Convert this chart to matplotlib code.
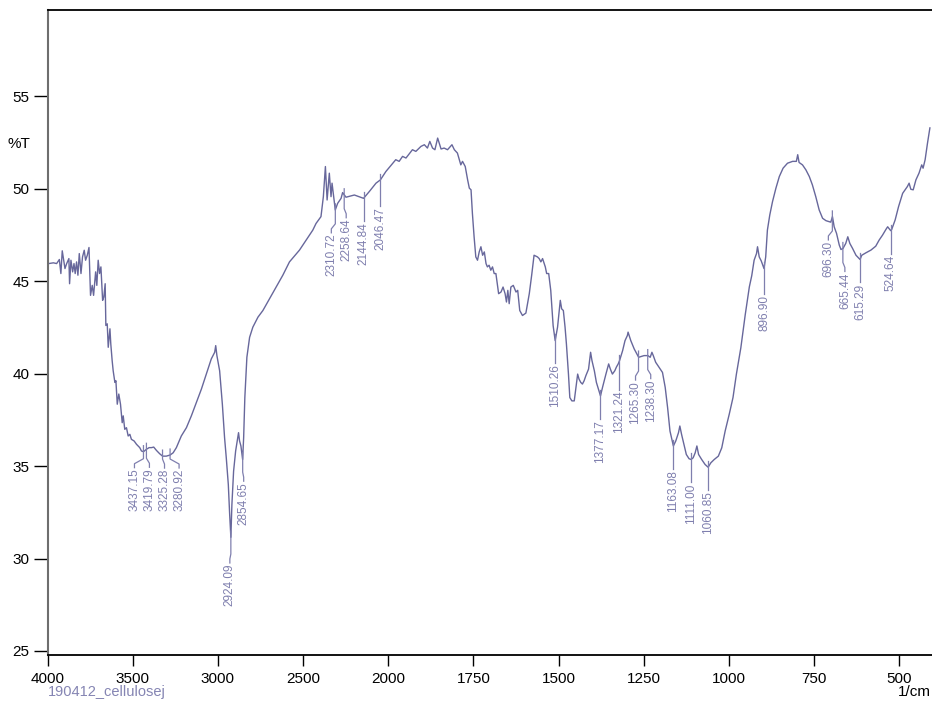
import numpy as np
import matplotlib
matplotlib.use("Agg")
import matplotlib.pyplot as plt

plt.rcParams['font.family'] = ['Liberation Sans', 'DejaVu Sans']

# FTIR spectrum of the cellulose sample (wavenumber in 1/cm, transmittance in %T)
wavenumber = [
    4000, 3966, 3947, 3931, 3922, 3914, 3898, 3888, 3875, 3871, 3863, 3853, 3845, 3838,
    3830, 3822, 3814, 3804, 3795, 3785, 3777, 3767, 3757, 3748, 3738, 3730, 3718, 3711,
    3703, 3695, 3687, 3677, 3670, 3662, 3658, 3650, 3644, 3634, 3629, 3621, 3615, 3605,
    3599, 3591, 3582, 3572, 3562, 3556, 3547, 3537, 3527, 3517, 3508, 3492, 3478, 3459,
    3449, 3437, 3420, 3404, 3390, 3377, 3361, 3342, 3325, 3303, 3281, 3263, 3244, 3215,
    3185, 3156, 3127, 3097, 3068, 3039, 3019, 3013, 3006, 2990, 2974, 2961, 2951, 2939,
    2931, 2924, 2918, 2908, 2896, 2885, 2879, 2873, 2865, 2855, 2849, 2842, 2830, 2814,
    2795, 2765, 2736, 2697, 2658, 2619, 2580, 2521, 2482, 2443, 2424, 2395, 2381, 2369,
    2359, 2346, 2336, 2330, 2311, 2297, 2277, 2268, 2248, 2199, 2145, 2111, 2072, 2046,
    2014, 1978, 1968, 1958, 1948, 1929, 1919, 1904, 1894, 1885, 1878, 1870, 1863, 1855,
    1845, 1836, 1826, 1813, 1806, 1797, 1787, 1782, 1774, 1767, 1762, 1757, 1753, 1748,
    1743, 1738, 1733, 1728, 1723, 1718, 1713, 1709, 1704, 1699, 1694, 1689, 1684, 1676,
    1669, 1663, 1657, 1653, 1649, 1645, 1640, 1633, 1625, 1620, 1614, 1606, 1596, 1586,
    1579, 1572, 1562, 1557, 1552, 1547, 1539, 1535, 1529, 1523, 1516, 1510, 1503, 1498,
    1495, 1491, 1486, 1481, 1477, 1471, 1467, 1461, 1454, 1449, 1444, 1440, 1435, 1430,
    1425, 1420, 1412, 1406, 1402, 1395, 1389, 1377, 1371, 1361, 1353, 1348, 1342, 1335,
    1330, 1325, 1321, 1312, 1305, 1298, 1296, 1288, 1278, 1265, 1249, 1238, 1231, 1226,
    1222, 1215, 1205, 1195, 1187, 1180, 1173, 1163, 1156, 1148, 1144, 1139, 1131, 1125,
    1117, 1111, 1105, 1099, 1094, 1089, 1080, 1070, 1061, 1053, 1043, 1031, 1021, 1011,
    999, 988, 978, 965, 952, 940, 933, 926, 919, 916, 911, 905, 897, 892,
    887, 880, 872, 862, 852, 841, 828, 813, 802, 798, 794, 784, 774, 764,
    755, 745, 735, 725, 715, 701, 696, 691, 684, 676, 671, 665, 657, 651,
    645, 637, 627, 615, 610, 598, 583, 569, 559, 549, 539, 534, 525, 522,
    512, 502, 490, 476, 471, 466, 459, 451, 442, 434, 430, 424, 417, 410,
]
transmittance = [
    45.95, 46.00, 45.96, 46.18, 45.42, 46.65, 45.69, 45.96, 46.23, 44.87, 46.14, 45.51, 45.96, 45.42,
    46.05, 45.33, 46.50, 45.42, 46.32, 46.68, 46.14, 46.41, 46.83, 44.24, 44.78, 44.24, 45.51, 44.78,
    46.14, 45.42, 45.78, 43.97, 44.15, 44.87, 42.61, 42.70, 41.43, 42.43, 41.61, 40.71, 40.16, 39.53,
    39.62, 38.35, 38.90, 38.35, 37.35, 37.72, 36.99, 37.08, 36.63, 36.72, 36.45, 36.36, 36.18, 36.00,
    35.82, 35.78, 35.91, 36.00, 36.00, 36.03, 35.85, 35.67, 35.54, 35.54, 35.60, 35.72, 36.00, 36.63,
    37.08, 37.72, 38.44, 39.17, 39.98, 40.80, 41.16, 41.52, 40.98, 40.16, 38.35, 36.54, 35.45, 34.00,
    32.37, 31.15, 32.91, 34.73, 35.82, 36.45, 36.81, 36.36, 36.09, 35.36, 36.54, 38.71, 40.89, 41.97,
    42.52, 43.06, 43.42, 44.06, 44.69, 45.33, 46.05, 46.69, 47.23, 47.77, 48.13, 48.50, 49.58, 51.21,
    49.40, 50.85, 49.58, 50.31, 48.86, 49.22, 49.49, 49.80, 49.55, 49.67, 49.49, 49.86, 50.31, 50.49,
    50.94, 51.58, 51.49, 51.76, 51.67, 52.12, 52.03, 52.30, 52.39, 52.21, 52.57, 52.21, 52.12, 52.75,
    52.16, 52.21, 52.12, 52.39, 52.12, 51.94, 51.30, 51.49, 51.21, 50.49, 50.04, 49.95, 48.68, 47.41,
    46.32, 46.14, 46.59, 46.87, 46.41, 46.59, 45.96, 45.78, 45.87, 45.60, 45.78, 45.42, 45.42, 44.33,
    44.42, 44.69, 44.33, 43.88, 44.51, 43.79, 44.69, 44.78, 44.42, 44.51, 43.42, 43.15, 43.28, 44.33,
    45.33, 46.41, 46.32, 46.23, 46.05, 46.23, 45.78, 45.42, 45.42, 44.51, 42.60, 41.79, 42.52, 43.42,
    43.97, 43.51, 43.42, 42.52, 41.61, 39.98, 38.71, 38.53, 38.53, 39.26, 39.98, 39.71, 39.53, 39.44,
    39.62, 39.89, 40.25, 41.16, 40.71, 40.16, 39.53, 38.80, 39.26, 39.98, 40.53, 40.25, 39.98, 40.16,
    40.37, 40.53, 40.71, 41.25, 41.79, 42.07, 42.25, 41.79, 41.34, 40.89, 40.98, 40.98, 40.89, 41.16,
    40.98, 40.62, 40.34, 40.07, 39.26, 38.17, 36.90, 36.09, 36.36, 36.81, 37.17, 36.72, 36.09, 35.63,
    35.40, 35.36, 35.45, 35.72, 36.09, 35.63, 35.36, 35.09, 34.94, 35.18, 35.36, 35.54, 35.99, 36.90,
    37.81, 38.71, 39.98, 41.40, 43.20, 44.70, 45.30, 46.14, 46.50, 46.87, 46.32, 46.10, 45.69, 46.32,
    47.77, 48.59, 49.31, 50.04, 50.67, 51.12, 51.39, 51.49, 51.49, 51.85, 51.43, 51.30, 51.03, 50.67,
    50.22, 49.58, 48.86, 48.41, 48.28, 48.20, 48.50, 47.95, 47.59, 46.96, 46.72, 46.78, 47.05, 47.41,
    47.05, 46.78, 46.41, 46.18, 46.41, 46.54, 46.69, 46.90, 47.23, 47.50, 47.81, 47.95, 47.74, 47.81,
    48.32, 49.04, 49.76, 50.13, 50.31, 49.98, 49.95, 50.49, 50.85, 51.30, 51.12, 51.58, 52.48, 53.30,
]

# picked peaks
peaks = [3437.15, 3419.79, 3325.28, 3280.92, 2924.09, 2854.65, 2310.72, 2258.64, 2144.84,
         2046.47, 1510.26, 1377.17, 1321.24, 1265.30, 1238.30, 1163.08, 1111.00, 1060.85,
         896.90, 696.30, 665.44, 615.29, 524.64]

x_ticks = [4000, 3500, 3000, 2500, 2000, 1750, 1500, 1250, 1000, 750, 500]
y_ticks = [25, 30, 35, 40, 45, 50, 55]

# horizontal nudge of crowded labels and drop below the curve (pixels)
label_dx = {3437.15: -9, 3419.79: 3, 3325.28: 2, 3280.92: 9, 2924.09: -1, 2854.65: 1,
            2310.72: -4, 2258.64: 2, 1265.30: -3, 1238.30: 3, 696.30: -4, 665.44: 2}
label_drop = {3437.15: 17, 3419.79: 19, 3325.28: 13, 3280.92: 14, 2924.09: 27,
              2046.47: 27, 1321.24: 30, 896.90: 27}

line_color = '#67679b'
label_color = '#7f7fae'


# spectrometer style axis: 4000-2000 at half the scale of 2000-400
def fwd(x):
    x = np.asarray(x, dtype=float)
    return np.where(x > 2000, 2000 + (x - 2000) / 2, x)


def inv(u):
    u = np.asarray(u, dtype=float)
    return np.where(u > 2000, 2000 + (u - 2000) * 2, u)


fig = plt.figure(figsize=(9.32, 7.04), dpi=100)
ax = fig.add_axes([47.6 / 932, 49 / 704, 885.7 / 932, 645 / 704])
ax.set_xscale('function', functions=(fwd, inv))
ax.set_xlim(4000, 400)
ax.set_ylim(24.78, 59.68)

ax.plot(wavenumber, transmittance, color=line_color, lw=1.0)

ax.set_xticks(x_ticks, [str(t) for t in x_ticks])
ax.set_yticks(y_ticks, [str(t) for t in y_ticks])
ax.minorticks_off()
ax.tick_params(axis='y', direction='out', length=10, width=1.0, labelsize=11, pad=3)
ax.tick_params(axis='x', direction='out', length=8, width=1.0, labelsize=11, pad=4)

ax.spines['right'].set_visible(False)
ax.spines['top'].set_color('black')
ax.spines['top'].set_linewidth(1.3)
ax.spines['bottom'].set_color('black')
ax.spines['bottom'].set_linewidth(1.3)
ax.spines['left'].set_color('#6e6e6e')
ax.spines['left'].set_linewidth(1.5)

# peak labels with leader lines
wn_asc = np.array(wavenumber[::-1], dtype=float)
t_asc = np.array(transmittance[::-1], dtype=float)
to_data = ax.transData.inverted()
for p in peaks:
    c = np.interp(p, wn_asc, t_asc)
    X0, Y0 = ax.transData.transform((p, c))
    dx = label_dx.get(p, 0)
    drop = label_drop.get(p, 24)
    X1 = X0 + dx
    Yt = Y0 - drop
    if dx == 0:
        pts = [(X0, Y0 + 6), (X0, Yt + 1)]
    else:
        pts = [(X0, Y0 + 6), (X0, Yt + 10), (X1, Yt + 5), (X1, Yt + 1)]
    dpts = to_data.transform(pts)
    ax.plot(dpts[:, 0], dpts[:, 1], color=label_color, lw=0.9)
    tx, ty = to_data.transform((X1, Yt))
    ax.text(tx, ty, f"{p:.2f}", rotation=90, ha='center', va='top',
            fontsize=8.5, color=label_color)

fig.text(8 / 932, 1 - 144 / 704, '%T', fontsize=11, va='center', ha='left')
fig.text(931 / 932, 1 - 692 / 704, '1/cm', fontsize=11, va='center', ha='right')
fig.text(48 / 932, 1 - 692 / 704, '190412_cellulosej', fontsize=10.5, va='center',
         ha='left', color='#8585b3')

fig.savefig('out.png', dpi=100)
